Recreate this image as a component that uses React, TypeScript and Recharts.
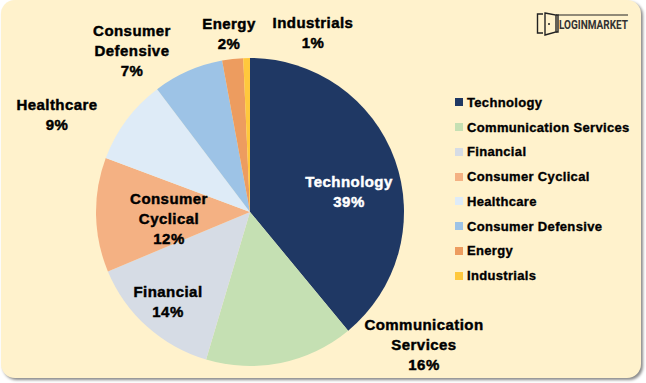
import { PieChart, Pie, Cell, Legend } from "recharts";

const sectors = ["Technology", "Communication Services", "Financial", "Consumer Cyclical", "Healthcare", "Consumer Defensive", "Energy", "Industrials"];
const shares = [39, 15.6, 14.1, 12, 9, 7.4, 2.2, 0.7];
const shareLabels = ["39%", "16%", "14%", "12%", "9%", "7%", "2%", "1%"];
const labelLines = [["Technology"], ["Communication", "Services"], ["Financial"], ["Consumer", "Cyclical"], ["Healthcare"], ["Consumer", "Defensive"], ["Energy"], ["Industrials"]];
const COLORS = ["#1f3864", "#c5e0b3", "#d6dce5", "#f4b183", "#deebf7", "#9dc3e6", "#ed9c5f", "#ffc83d"];

// where each label block starts (center x, first line baseline)
const LABEL_ANCHORS = [
  [349, 187],
  [424, 330],
  [168, 297],
  [169, 204],
  [57, 110],
  [132, 36],
  [229, 29],
  [313, 28]
];

const FONT = "'Liberation Sans', Arial, sans-serif";
const data = sectors.map((name, i) => ({ name, value: shares[i] }));

function SliceLabel({ index }: any) {
  const [x, y] = LABEL_ANCHORS[index];
  const lines = [...labelLines[index], shareLabels[index]];
  const color = index === 0 ? "#fff" : "#000";
  return (
    <text x={x} y={y} textAnchor="middle" fontFamily={FONT} fontSize={15} fontWeight={700} letterSpacing={0.45} stroke={color} strokeWidth={0.45} fill={color}>
      {lines.map((line, i) => (
        <tspan key={line} x={x} dy={i === 0 ? 0 : 20}>{line}</tspan>
      ))}
    </text>
  );
}

function SectorLegend() {
  return (
    <div>
      {sectors.map((name, i) => (
        <div key={name} style={{ display: "flex", alignItems: "center", height: 24.75, fontFamily: FONT, fontSize: 13, fontWeight: 700, letterSpacing: 0.33, color: "#000", WebkitTextStroke: "0.35px #000", whiteSpace: "nowrap" }}>
          <span style={{ width: 8, height: 8, background: COLORS[i], marginRight: 4, flex: "none" }} />
          {name}
        </div>
      ))}
    </div>
  );
}

function Logo() {
  return (
    <svg width={116} height={40} style={{ position: "absolute", left: 530, top: 8 }}>
      <g fill="none" stroke="#222" strokeWidth={1.4}>
        <path d="M13 6 H7.5 V25 H13" />
        <path d="M15 5 L26 7 V24 L15 27 Z" />
        <path d="M26 7 H28 V24 H26" />
        <path d="M28 7 H98" strokeWidth={1} />
      </g>
      <circle cx={19} cy={16} r={1} fill="#222" />
      <text x={29} y={21} fontFamily="'Roboto', sans-serif" fontSize={12.5} fontWeight={700} fill="#333" textLength={69} lengthAdjust="spacingAndGlyphs">LOGINMARKET</text>
    </svg>
  );
}

export default function App() {
  return (
    <div style={{ position: "absolute", left: 0, top: 0, width: 646, height: 383, background: "#fff", overflow: "hidden" }}>
      <div style={{ position: "absolute", left: 1, top: 0, width: 640, height: 378, background: "#fff2cc", borderRadius: 14, boxShadow: "2px 2px 3px #8a8a8a" }} />
      <div style={{ position: "absolute", left: 0, top: 0 }}>
        <PieChart width={646} height={383}>
          <Pie
            data={data}
            dataKey="value"
            nameKey="name"
            cx={245}
            cy={207}
            outerRadius={154}
            startAngle={90}
            endAngle={-270}
            stroke="none"
            label={(props: any) => <SliceLabel {...props} />}
            labelLine={false}
            isAnimationActive={false}
          >
            {data.map((entry, index) => (
              <Cell key={entry.name} fill={COLORS[index]} />
            ))}
          </Pie>
          <Legend content={() => <SectorLegend />} layout="vertical" wrapperStyle={{ left: 455, top: 90, width: 190 }} />
        </PieChart>
      </div>
      <Logo />
    </div>
  );
}
